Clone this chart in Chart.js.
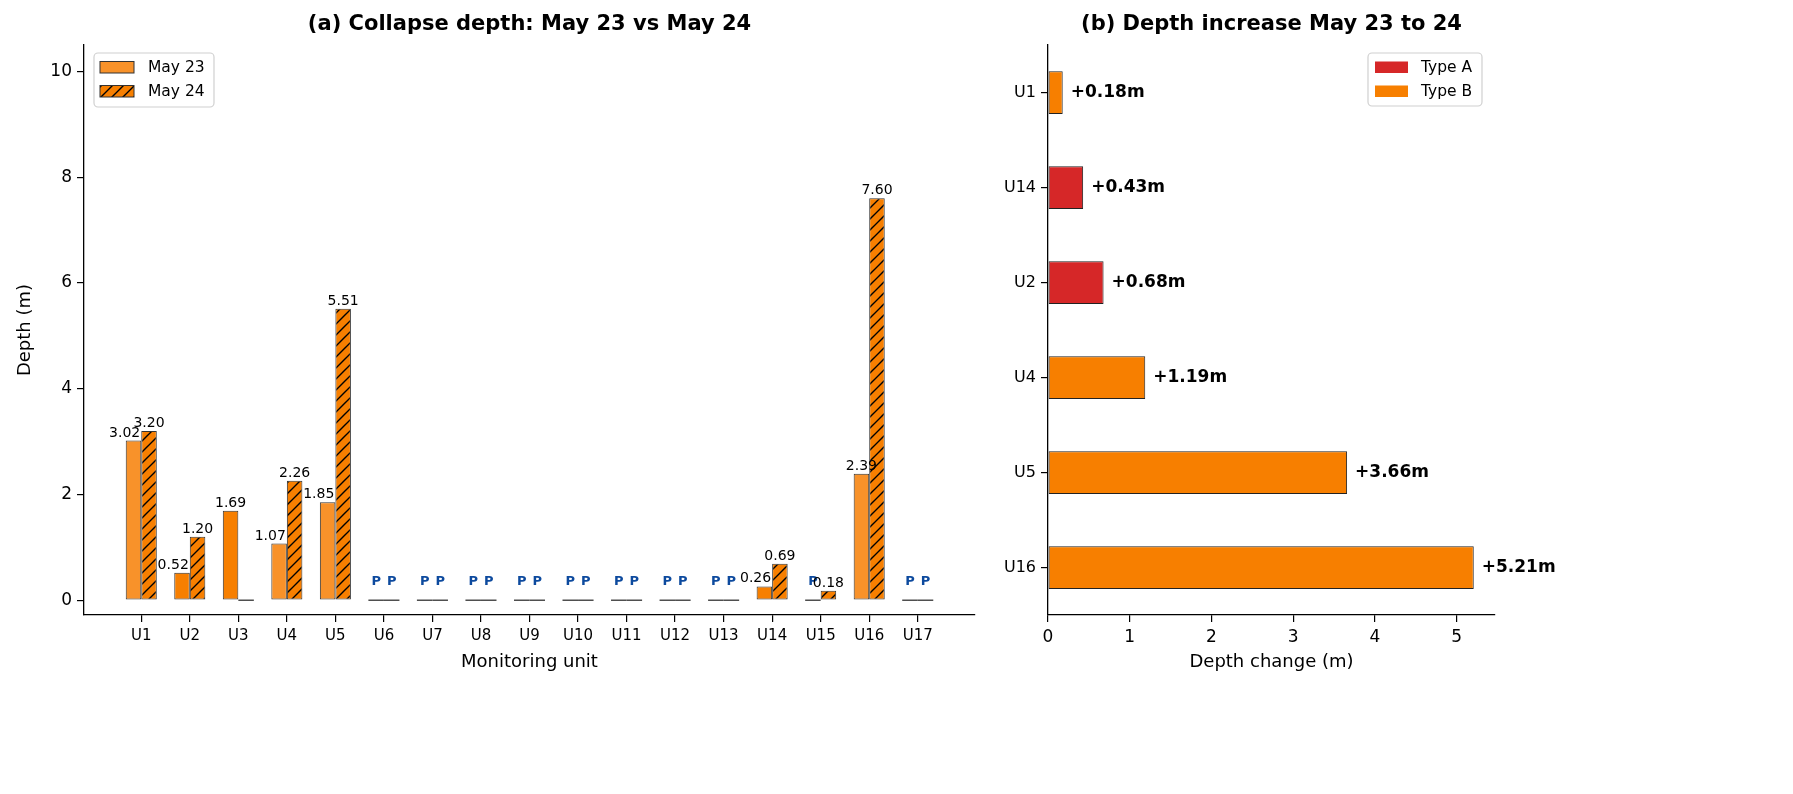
<!DOCTYPE html>
<html>
<head>
<meta charset="utf-8">
<script src="https://cdn.jsdelivr.net/npm/chart.js@4.4.1/dist/chart.umd.min.js"></script>
<style>
  html, body { margin: 0; padding: 0; background: #fff; }
  #wrap { position: relative; width: 1793px; height: 794px; }
  #leftBox { position: absolute; left: 0; top: 0; width: 980px; height: 794px; }
  #rightBox { position: absolute; left: 980px; top: 0; width: 813px; height: 794px; }
</style>
</head>
<body>
<div id="wrap">
  <div id="leftBox"><canvas id="depthChart"></canvas></div>
  <div id="rightBox"><canvas id="increaseChart"></canvas></div>
</div>
<script>
// panel (a) data
const units = ["U1", "U2", "U3", "U4", "U5", "U6", "U7", "U8", "U9", "U10", "U11", "U12", "U13", "U14", "U15", "U16", "U17"];
const may23 = [3.02, 0.52, 1.69, 1.07, 1.85, 0, 0, 0, 0, 0, 0, 0, 0, 0.26, 0, 2.39, 0];
const may24 = [3.20, 1.20, 0, 2.26, 5.51, 0, 0, 0, 0, 0, 0, 0, 0, 0.69, 0.18, 7.60, 0];
// "P" marks on units with no reading
const pending23 = [false, false, false, false, false, true, true, true, true, true, true, true, true, false, true, false, true];
const pending24 = [false, false, false, false, false, true, true, true, true, true, true, true, true, false, false, false, true];
const depthTicks = [0, 2, 4, 6, 8, 10];

// panel (b) data
const incUnits = ["U1", "U14", "U2", "U4", "U5", "U16"];
const incValues = [0.18, 0.43, 0.68, 1.19, 3.66, 5.21];
const incTypes = ["B", "A", "A", "B", "B", "B"];
const incTicks = [0, 1, 2, 3, 4, 5];

const FONT = "DejaVu Sans";
Chart.defaults.font.family = FONT;
Chart.defaults.color = "#000";

const LIGHT = "#f8922a";
const DARK = "#f77f00";
const RED = "#d62728";

function typeOf(u) {
  const k = incUnits.indexOf(u);
  return k < 0 ? null : incTypes[k];
}

function makeHatch(ctx, fill) {
  const s = 11;
  const c = document.createElement("canvas");
  c.width = s; c.height = s;
  const g = c.getContext("2d");
  g.fillStyle = fill;
  g.fillRect(0, 0, s, s);
  g.strokeStyle = "#000";
  g.lineWidth = 1.4;
  g.beginPath();
  g.moveTo(0, s); g.lineTo(s, 0);
  g.moveTo(-1, 1); g.lineTo(1, -1);
  g.moveTo(s - 1, s + 1); g.lineTo(s + 1, s - 1);
  g.stroke();
  return ctx.createPattern(c, "repeat");
}

function legendBox(ctx, x, y, w, h) {
  ctx.save();
  ctx.fillStyle = "rgba(255,255,255,0.8)";
  ctx.strokeStyle = "#d0d0d0";
  ctx.lineWidth = 1.2;
  ctx.beginPath();
  ctx.roundRect(x, y, w, h, 4);
  ctx.fill();
  ctx.stroke();
  ctx.restore();
}

function drawTitle(chart, text) {
  const ctx = chart.ctx;
  const a = chart.chartArea;
  ctx.save();
  ctx.font = "bold 21px " + FONT;
  ctx.fillStyle = "#000";
  ctx.textAlign = "center";
  ctx.textBaseline = "middle";
  ctx.fillText(text, (a.left + a.right) / 2, 25);
  ctx.restore();
}

const ctx1 = document.getElementById("depthChart").getContext("2d");
const hatch = makeHatch(ctx1, DARK);
const may23Colors = units.map(u => (typeOf(u) === "B" ? LIGHT : DARK));

const depthMarks = {
  id: "depthMarks",
  afterDatasetsDraw(chart) {
    const ctx = chart.ctx;
    const series = [may23, may24];
    const pending = [pending23, pending24];
    ctx.save();
    series.forEach((vals, d) => {
      const meta = chart.getDatasetMeta(d);
      meta.data.forEach((bar, i) => {
        const v = vals[i];
        const half = bar.width / 2;
        if (v === 0) {
          ctx.strokeStyle = "#222";
          ctx.lineWidth = 1.2;
          ctx.beginPath();
          ctx.moveTo(bar.x - half, bar.base);
          ctx.lineTo(bar.x + half, bar.base);
          ctx.stroke();
          if (pending[d][i]) {
            ctx.fillStyle = "#0d4a9e";
            ctx.font = "bold 13px " + FONT;
            ctx.textAlign = "center";
            ctx.textBaseline = "alphabetic";
            ctx.fillText("P", bar.x, bar.base - 15);
          }
        } else {
          let x = bar.x;
          let align = "center";
          // nudge the first label left when the pair is close in height
          if (d === 0 && may24[i] > 0 && may24[i] - v < 4) {
            x = bar.x + half - 1;
            align = "right";
          }
          ctx.fillStyle = "#000";
          ctx.font = "14px " + FONT;
          ctx.textAlign = align;
          ctx.textBaseline = "alphabetic";
          ctx.fillText(v.toFixed(2), x, bar.y - 4);
        }
      });
    });
    ctx.restore();

    drawTitle(chart, "(a) Collapse depth: May 23 vs May 24");

    // legend
    const a = chart.chartArea;
    const bx = a.left + 10, by = 53;
    legendBox(ctx, bx, by, 120, 54);
    ctx.save();
    ctx.strokeStyle = "#333";
    ctx.lineWidth = 1;
    ctx.fillStyle = LIGHT;
    ctx.fillRect(bx + 6, by + 8.5, 34, 11.5);
    ctx.strokeRect(bx + 6, by + 8.5, 34, 11.5);
    ctx.fillStyle = hatch;
    ctx.fillRect(bx + 6, by + 32.5, 34, 11.5);
    ctx.strokeRect(bx + 6, by + 32.5, 34, 11.5);
    ctx.fillStyle = "#000";
    ctx.font = "15.5px " + FONT;
    ctx.textAlign = "left";
    ctx.textBaseline = "middle";
    ctx.fillText(chart.data.datasets[0].label, bx + 54, by + 14.5);
    ctx.fillText(chart.data.datasets[1].label, bx + 54, by + 38.5);
    ctx.restore();
  }
};

new Chart(ctx1, {
  type: "bar",
  data: {
    datasets: [
      {
        label: "May 23",
        data: may23.map((v, i) => ({ x: i, y: v })),
        backgroundColor: may23Colors,
        borderColor: "#333",
        borderWidth: 1,
        borderSkipped: false,
        categoryPercentage: 0.64,
        barPercentage: 1,
      },
      {
        label: "May 24",
        data: may24.map((v, i) => ({ x: i, y: v })),
        backgroundColor: hatch,
        borderColor: "#333",
        borderWidth: 1,
        borderSkipped: false,
        categoryPercentage: 0.64,
        barPercentage: 1,
      },
    ],
  },
  options: {
    responsive: true,
    maintainAspectRatio: false,
    animation: false,
    layout: { padding: { top: 45, right: 5, left: 0, bottom: 0 } },
    plugins: { legend: { display: false }, tooltip: { enabled: false } },
    scales: {
      x: {
        type: "linear",
        min: -1.18,
        max: 17.18,
        offset: false,
        afterBuildTicks: s => { s.ticks = units.map((u, i) => ({ value: i })); },
        afterFit: s => { s.height = 179; },
        ticks: {
          callback: v => units[v],
          font: { size: 15 },
          color: "#000",
          padding: 5,
          autoSkip: false,
          maxRotation: 0,
        },
        grid: { display: true, offset: false, drawOnChartArea: false, drawTicks: true, tickLength: 7, color: "#000", lineWidth: 1.2 },
        border: { display: true, color: "#000", width: 1.3 },
        title: { display: true, text: "Monitoring unit", font: { size: 18 }, color: "#000", padding: { top: 0, bottom: 121 } },
      },
      y: {
        min: -0.28,
        max: 10.5,
        afterBuildTicks: s => { s.ticks = depthTicks.map(v => ({ value: v })); },
        afterFit: s => { s.width = 84; },
        ticks: { font: { size: 17 }, color: "#000", padding: 5 },
        grid: { display: true, drawOnChartArea: false, drawTicks: true, tickLength: 7, color: "#000", lineWidth: 1.2 },
        border: { display: true, color: "#000", width: 1.3 },
        title: { display: true, text: "Depth (m)", font: { size: 18 }, color: "#000", padding: { top: 15, bottom: 0 } },
      },
    },
  },
  plugins: [depthMarks],
});

const increaseMarks = {
  id: "increaseMarks",
  afterDatasetsDraw(chart) {
    const ctx = chart.ctx;
    const meta = chart.getDatasetMeta(0);
    ctx.save();
    ctx.fillStyle = "#000";
    ctx.font = "bold 17px " + FONT;
    ctx.textAlign = "left";
    ctx.textBaseline = "middle";
    meta.data.forEach((bar, i) => {
      ctx.fillText("+" + incValues[i].toFixed(2) + "m", bar.x + 8, bar.y);
    });
    ctx.restore();

    drawTitle(chart, "(b) Depth increase May 23 to 24");

    const a = chart.chartArea;
    const bw = 114;
    const bx = a.right - 13 - bw, by = 53;
    legendBox(ctx, bx, by, bw, 53);
    ctx.save();
    ctx.fillStyle = RED;
    ctx.fillRect(bx + 7, by + 8.5, 33, 11.5);
    ctx.fillStyle = DARK;
    ctx.fillRect(bx + 7, by + 32.5, 33, 11.5);
    ctx.fillStyle = "#000";
    ctx.font = "15.5px " + FONT;
    ctx.textAlign = "left";
    ctx.textBaseline = "middle";
    ctx.fillText("Type A", bx + 53, by + 14.5);
    ctx.fillText("Type B", bx + 53, by + 38.5);
    ctx.restore();
  }
};

const ctx2 = document.getElementById("increaseChart").getContext("2d");
new Chart(ctx2, {
  type: "bar",
  data: {
    labels: incUnits,
    datasets: [
      {
        label: "Depth increase",
        data: incValues,
        backgroundColor: incTypes.map(t => (t === "A" ? RED : DARK)),
        borderColor: "#222",
        borderWidth: 1,
        borderSkipped: false,
        barPercentage: 0.45,
        categoryPercentage: 1,
      },
    ],
  },
  options: {
    indexAxis: "y",
    responsive: true,
    maintainAspectRatio: false,
    animation: false,
    layout: { padding: { top: 45, right: 298, left: 0, bottom: 0 } },
    plugins: { legend: { display: false }, tooltip: { enabled: false } },
    scales: {
      x: {
        type: "linear",
        min: 0,
        max: 5.47,
        afterBuildTicks: s => { s.ticks = incTicks.map(v => ({ value: v })); },
        afterFit: s => { s.height = 179; },
        ticks: { font: { size: 17 }, color: "#000", padding: 5 },
        grid: { display: true, drawOnChartArea: false, drawTicks: true, tickLength: 7, color: "#000", lineWidth: 1.2 },
        border: { display: true, color: "#000", width: 1.3 },
        title: { display: true, text: "Depth change (m)", font: { size: 18 }, color: "#000", padding: { top: 0, bottom: 121 } },
      },
      y: {
        afterFit: s => { s.width = 68; },
        ticks: { font: { size: 16 }, color: "#000", padding: 5 },
        grid: { display: true, offset: false, drawOnChartArea: false, drawTicks: true, tickLength: 7, color: "#000", lineWidth: 1.2 },
        border: { display: true, color: "#000", width: 1.3 },
      },
    },
  },
  plugins: [increaseMarks],
});
</script>
</body>
</html>
